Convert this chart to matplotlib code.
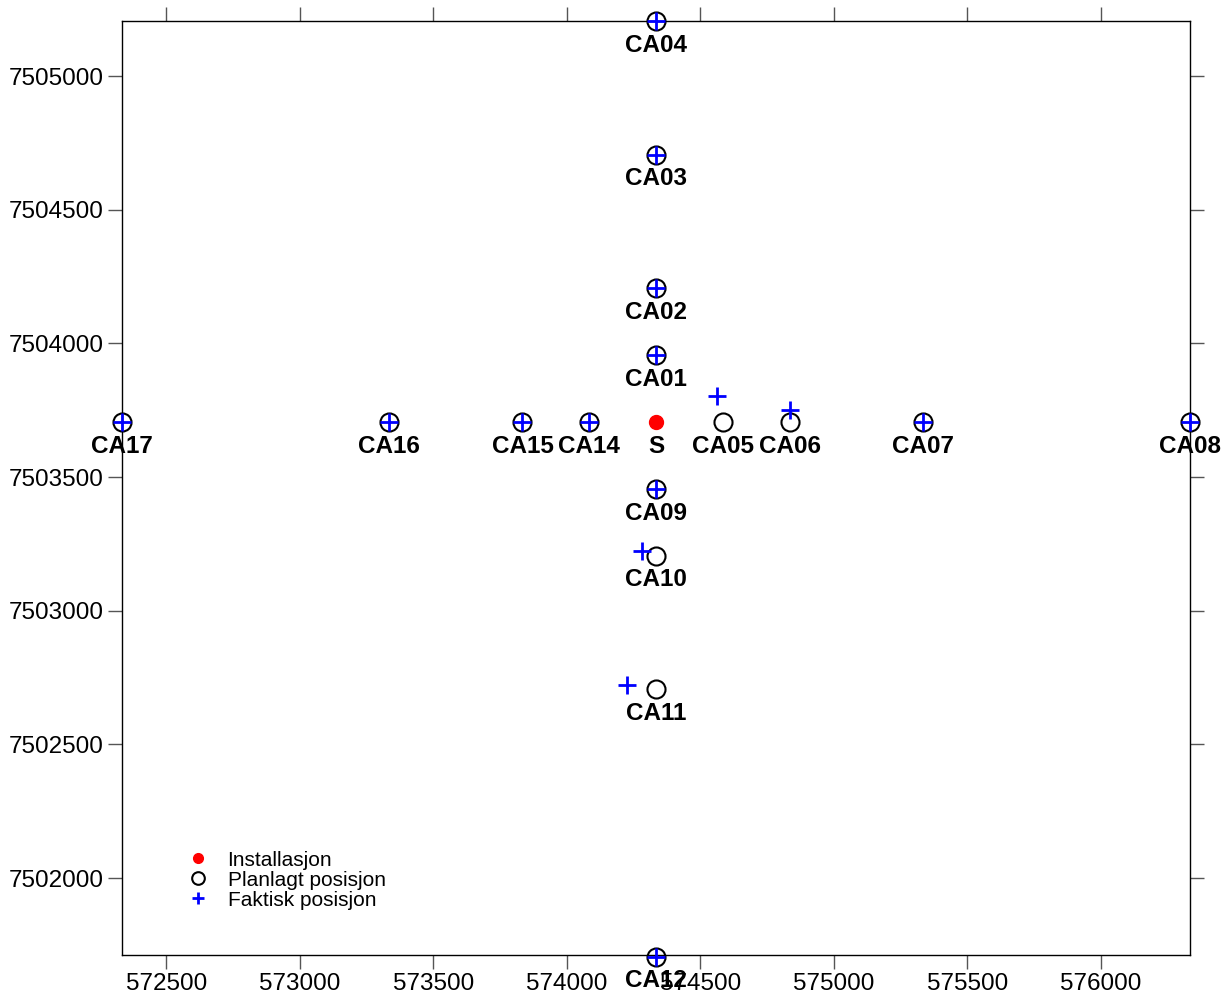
import matplotlib.pyplot as plt

plt.rcParams['font.family'] = ['Liberation Sans', 'DejaVu Sans']

# installation
inst_x = [574334]
inst_y = [7503706]

# stations: planned vs actual positions
names = ['CA01', 'CA02', 'CA03', 'CA04', 'CA05', 'CA06', 'CA07', 'CA08',
         'CA09', 'CA10', 'CA11', 'CA12', 'CA14', 'CA15', 'CA16', 'CA17']
plan_x = [574334, 574334, 574334, 574334, 574584, 574834, 575334, 576334,
          574334, 574334, 574334, 574334, 574084, 573834, 573334, 572334]
plan_y = [7503956, 7504206, 7504706, 7505206, 7503706, 7503706, 7503706, 7503706,
          7503456, 7503206, 7502706, 7501706, 7503706, 7503706, 7503706, 7503706]
real_x = [574334, 574334, 574334, 574334, 574562, 574835, 575334, 576334,
          574334, 574282, 574226, 574334, 574084, 573834, 573334, 572334]
real_y = [7503956, 7504206, 7504706, 7505206, 7503803, 7503751, 7503706, 7503706,
          7503456, 7503223, 7502722, 7501706, 7503706, 7503706, 7503706, 7503706]

xticks = [572500, 573000, 573500, 574000, 574500, 575000, 575500, 576000]
yticks = [7502000, 7502500, 7503000, 7503500, 7504000, 7504500, 7505000]

fig = plt.figure(figsize=(12.31, 9.99), dpi=100)
ax = fig.add_axes([0.0991, 0.044, 0.8676, 0.935])

ax.plot(inst_x, inst_y, 'o', color='red', ms=10, ls='none', label='Installasjon',
        zorder=3, clip_on=False)
ax.plot(plan_x, plan_y, 'o', mfc='none', mec='black', mew=1.5, ms=13, ls='none',
        label='Planlagt posisjon', zorder=3, clip_on=False)
ax.plot(real_x, real_y, '+', color='blue', mew=2, ms=13, ls='none',
        label='Faktisk posisjon', zorder=4, clip_on=False)

for n, x, y in zip(names, plan_x, plan_y):
    ax.annotate(n, (x, y), xytext=(0, -17.5), textcoords='offset points',
                ha='center', va='center', fontsize=17.5, fontweight='bold',
                annotation_clip=False, zorder=5)
ax.annotate('S', (inst_x[0], inst_y[0]), xytext=(0, -17.5), textcoords='offset points',
            ha='center', va='center', fontsize=17.5, fontweight='bold')

ax.set_xlim(572334, 576334)
ax.set_ylim(7501712, 7505206)
ax.set_xticks(xticks)
ax.set_yticks(yticks)
ax.set_xticklabels([str(v) for v in xticks])
ax.set_yticklabels([str(v) for v in yticks])
ax.tick_params(axis='both', which='major', direction='out', length=10, width=1,
               color='#555555', labelsize=17.5, top=True, right=True, pad=3)
for s in ax.spines.values():
    s.set_linewidth(1)
    s.set_color('black')

leg = ax.legend(loc='upper left', bbox_to_anchor=(0.052, 0.123), frameon=False,
                fontsize=15, handlelength=1.0, handletextpad=0.9, labelspacing=0.05,
                borderpad=0, markerscale=0.7)

fig.savefig('out.png', dpi=100)
